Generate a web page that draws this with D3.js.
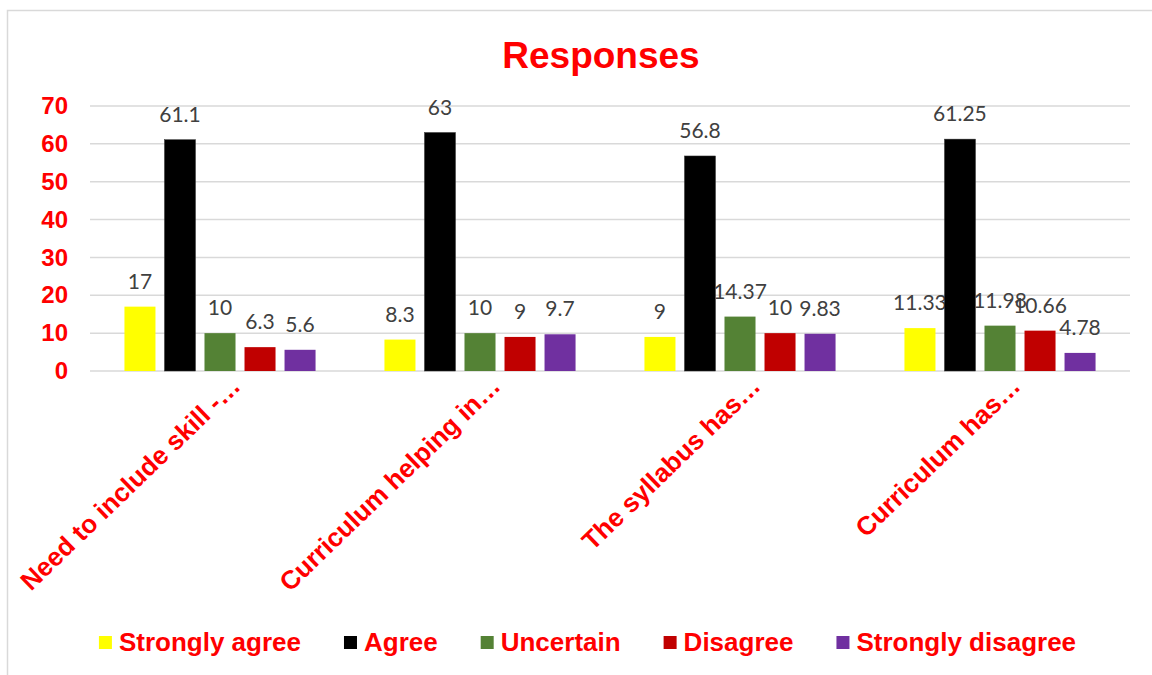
<!DOCTYPE html>
<html><head><meta charset="utf-8">
<script src="https://cdn.jsdelivr.net/npm/d3@7"></script>
<style>body{margin:0;background:#fff}svg{display:block}</style>
</head><body>
<svg id="c" width="1152" height="675"></svg>
<script>
const categories = ["Need to include skill -…", "Curriculum helping in…", "The syllabus has…", "Curriculum has…"];
const seriesNames = ["Strongly agree", "Agree", "Uncertain", "Disagree", "Strongly disagree"];
const stronglyAgree = [17, 8.3, 9, 11.33];
const agree = [61.1, 63, 56.8, 61.25];
const uncertain = [10, 10, 14.37, 11.98];
const disagree = [6.3, 9, 10, 10.66];
const stronglyDisagree = [5.6, 9.7, 9.83, 4.78];
const labelText = [["17","8.3","9","11.33"],["61.1","63","56.8","61.25"],["10","10","14.37","11.98"],["6.3","9","10","10.66"],["5.6","9.7","9.83","4.78"]];
const yTicks = [0, 10, 20, 30, 40, 50, 60, 70];
const colors = ["#FFFF00", "#000000", "#548235", "#C00000", "#7030A0"];
const allSeries = [stronglyAgree, agree, uncertain, disagree, stronglyDisagree];

const FONT = "'Liberation Sans', Arial, sans-serif";
const svg = d3.select("#c");
svg.append("rect").attr("x", 7.5).attr("y", 10.5).attr("width", 1160).attr("height", 680)
  .attr("fill", "#fff").attr("stroke", "#d9d9d9").attr("stroke-width", 1.5);

const m = {left: 90, right: 1130, top: 106, bottom: 371};
const x0 = d3.scaleBand().domain(categories).range([m.left, m.right]).paddingInner(0.265).paddingOuter(0.1325);
const x1 = d3.scaleBand().domain(seriesNames).range([0, x0.bandwidth()]).paddingInner(0.225);
const y = d3.scaleLinear().domain([0, 70]).range([m.bottom, m.top]);

// gridlines
svg.append("g").selectAll("line").data(yTicks).join("line")
  .attr("x1", m.left).attr("x2", m.right)
  .attr("y1", d => y(d)).attr("y2", d => y(d))
  .attr("stroke", "#d9d9d9").attr("stroke-width", 1.5);

// y axis labels
const yAxis = d3.axisLeft(y).tickValues(yTicks).tickSize(0).tickPadding(22);
const ya = svg.append("g").attr("transform", `translate(${m.left},0)`).call(yAxis);
ya.select(".domain").remove();
ya.selectAll("text").attr("font-family", FONT)
  .attr("font-weight", "bold").attr("font-size", 24).attr("fill", "#FF0000");

// bars
const groups = svg.append("g").selectAll("g").data(categories).join("g")
  .attr("transform", d => `translate(${x0(d)},0)`);
groups.each(function(cat, ci) {
  const g = d3.select(this);
  seriesNames.forEach((s, si) => {
    const v = allSeries[si][ci];
    g.append("rect").attr("x", x1(s)).attr("width", x1.bandwidth())
      .attr("y", y(v)).attr("height", y(0) - y(v))
      .attr("fill", colors[si]).attr("stroke", si === 1 ? "#333" : "none").attr("stroke-width", 0.5);
    g.append("text").attr("x", x1(s) + x1.bandwidth() / 2).attr("y", y(v) - 18)
      .attr("text-anchor", "middle").attr("font-family", "Lato, 'Open Sans', sans-serif")
      .attr("font-size", 21).attr("fill", "#404040").text(labelText[si][ci]);
  });
});

// x axis category labels
const xa = svg.append("g").attr("transform", `translate(0,${m.bottom})`)
  .call(d3.axisBottom(x0).tickSize(0).tickPadding(0));
xa.select(".domain").remove();
xa.selectAll("text")
  .attr("font-family", FONT).attr("font-weight", "bold")
  .attr("font-size", 26).attr("fill", "#FF0000")
  .attr("text-anchor", "end").attr("y", 0).attr("dy", 0)
  .attr("transform", "translate(22,17) rotate(-44)");

// title
svg.append("text").attr("x", 601).attr("y", 68).attr("text-anchor", "middle")
  .attr("font-family", FONT).attr("font-weight", "bold")
  .attr("font-size", 37).attr("fill", "#FF0000").text("Responses");

// legend
const leg = svg.append("g");
const items = [];
seriesNames.forEach((s, i) => {
  const g = leg.append("g");
  g.append("rect").attr("width", 13).attr("height", 13).attr("y", -6).attr("fill", colors[i]);
  const t = g.append("text").attr("x", 20).attr("dy", "0.36em")
    .attr("font-family", FONT).attr("font-weight", "bold")
    .attr("font-size", 26).attr("fill", "#FF0000").text(s);
  items.push({g, w: 20 + t.node().getComputedTextLength()});
});
const gap = 43;
const total = d3.sum(items, d => d.w) + gap * (items.length - 1);
let cx = 587.5 - total / 2;
items.forEach(it => { it.g.attr("transform", `translate(${cx},642)`); cx += it.w + gap; });
</script>
</body></html>
